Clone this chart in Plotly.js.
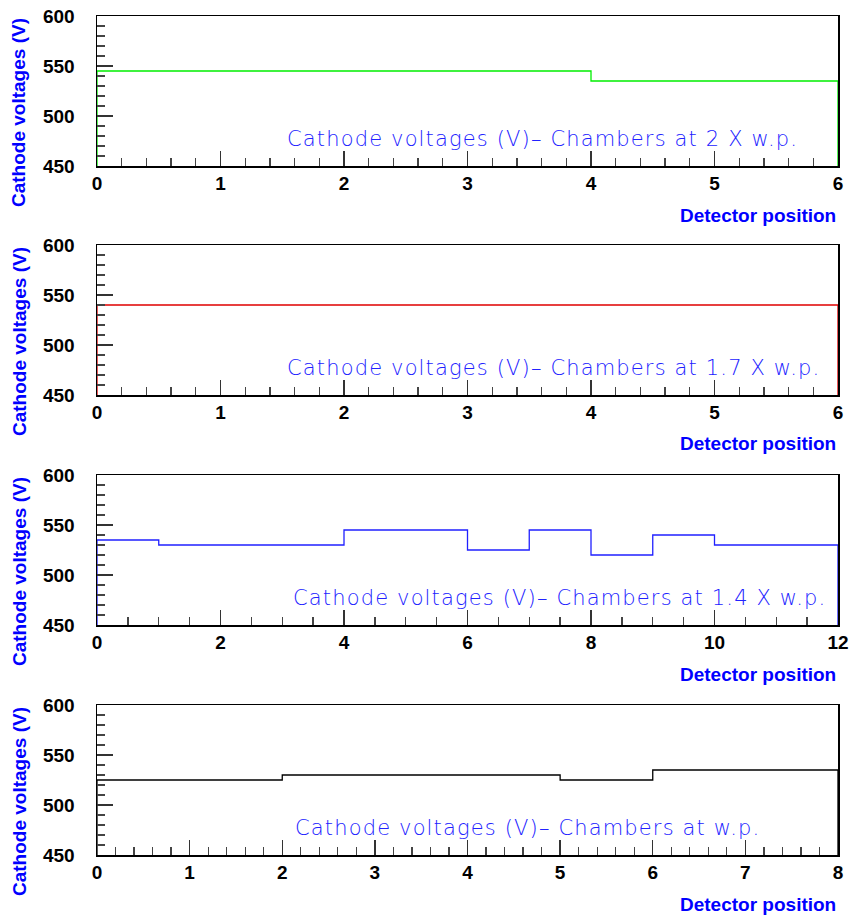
<!DOCTYPE html>
<html><head><meta charset="utf-8">
<script src="https://cdn.plot.ly/plotly-3.0.1.min.js"></script>
<style>html,body{margin:0;padding:0;background:#fff}#chart{width:849px;height:915px}</style>
</head><body><div id="chart"></div>
<script>
// Data (bin edges and bin values for each panel)
const edges1 = [0, 4, 6];
const volts1 = [545, 535];
const edges2 = [0, 6];
const volts2 = [540];
const edges3 = [0, 1, 4, 6, 7, 8, 9, 10, 12];
const volts3 = [535, 530, 545, 525, 545, 520, 540, 530];
const edges4 = [0, 2, 5, 6, 8];
const volts4 = [525, 530, 525, 535];
const labels = [
  "Cathode voltages (V)– Chambers at 2 X w.p.",
  "Cathode voltages (V)– Chambers at 1.7 X w.p.",
  "Cathode voltages (V)– Chambers at 1.4 X w.p.",
  "Cathode voltages (V)– Chambers at w.p."
];
const yTitle = "Cathode voltages (V)";
const xTitle = "Detector position";

const W = 849, H = 915;
const base = 450;
const colors = ["#00ee00", "#e00000", "#2020ff", "#000000"];
const panels = [
  {e: edges1, v: volts1, xmax: 6, dt: 1, mdt: 0.2, top: 16},
  {e: edges2, v: volts2, xmax: 6, dt: 1, mdt: 0.2, top: 245},
  {e: edges3, v: volts3, xmax: 12, dt: 2, mdt: 0.5, top: 475},
  {e: edges4, v: volts4, xmax: 8, dt: 1, mdt: 0.2, top: 705}
];
const textLeft = [285, 285, 291, 293];
const left = 97, right = 838, ph = 150;

const traces = [];
const layout = {
  width: W, height: H, margin: {l: 0, r: 0, t: 0, b: 0},
  paper_bgcolor: "#fff", plot_bgcolor: "#fff", showlegend: false,
  annotations: []
};
const tickFont = {family: "Liberation Sans, Arial, sans-serif", size: 19, color: "#000", weight: "bold"};
const titleFont = {family: "Liberation Sans, Arial, sans-serif", size: 19, color: "#0000ff", weight: "bold"};

panels.forEach((p, i) => {
  const n = i + 1;
  const xa = "x" + (n === 1 ? "" : n), ya = "y" + (n === 1 ? "" : n);
  const xk = "xaxis" + (n === 1 ? "" : n), yk = "yaxis" + (n === 1 ? "" : n);
  traces.push({
    type: "scatter", mode: "lines", xaxis: xa, yaxis: ya,
    x: [p.e[0]].concat(p.e), y: [base].concat(p.v, [base]),
    line: {shape: "hv", color: colors[i], width: 1.3}, hoverinfo: "skip"
  });
  const y0 = 1 - (p.top + ph) / H, y1 = 1 - p.top / H;
  layout[xk] = {
    domain: [left / W, right / W], anchor: ya, range: [0, p.xmax],
    dtick: p.dt, tick0: 0, ticks: "inside", ticklen: 15, tickwidth: 1.3, tickcolor: "#333",
    minor: {dtick: p.mdt, tick0: 0, ticks: "inside", ticklen: 8, tickwidth: 1.3, tickcolor: "#444", showgrid: false},
    showgrid: false, zeroline: false, showline: true, linecolor: "#000", linewidth: 1.5, mirror: true,
    tickfont: tickFont, ticklabelstandoff: 0, fixedrange: true
  };
  layout[yk] = {
    domain: [y0, y1], anchor: xa, range: [450, 600],
    dtick: 50, tick0: 0, ticks: "inside", ticklen: 16, tickwidth: 1.3, tickcolor: "#333",
    minor: {dtick: 10, tick0: 0, ticks: "inside", ticklen: 8, tickwidth: 1.3, tickcolor: "#444", showgrid: false},
    showgrid: false, zeroline: false, showline: true, linecolor: "#000", linewidth: 1.5, mirror: true,
    tickfont: tickFont, ticklabelstandoff: 17, fixedrange: true
  };
  layout.annotations.push({
    xref: "paper", yref: "paper", x: 19 / W, y: 1 - (p.top + 97) / H,
    xanchor: "center", yanchor: "middle", textangle: -90, showarrow: false,
    text: yTitle, font: titleFont
  });
  layout.annotations.push({
    xref: "paper", yref: "paper", x: right / W, y: 1 - (p.top + ph + 49) / H,
    xanchor: "right", yanchor: "middle", showarrow: false,
    text: xTitle, font: titleFont
  });
  layout.annotations.push({
    xref: "paper", yref: "paper", x: textLeft[i] / W, y: 1 - (p.top + ph - 27) / H,
    xanchor: "left", yanchor: "middle", showarrow: false,
    text: '<span style="letter-spacing:1.15px">' + labels[i] + '</span>',
    font: {family: "DejaVu Sans, sans-serif", size: 21, color: "#2222ff", weight: 200}
  });
});

Plotly.newPlot("chart", traces, layout, {staticPlot: true});
</script>
</body></html>
